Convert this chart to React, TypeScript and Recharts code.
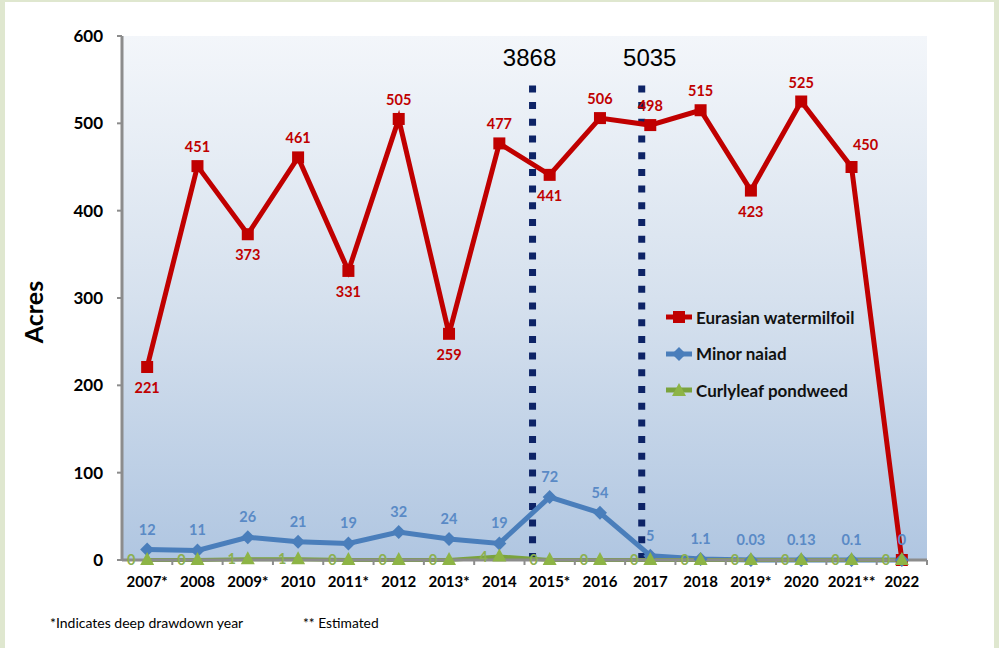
import React from 'react';
import { LineChart, Line, XAxis, YAxis, CartesianGrid, ReferenceLine, LabelList } from 'recharts';

const years = ['2007*', '2008', '2009*', '2010', '2011*', '2012', '2013*', '2014', '2015*', '2016', '2017', '2018', '2019*', '2020', '2021**', '2022'];
const watermilfoil = [221, 451, 373, 461, 331, 505, 259, 477, 441, 506, 498, 515, 423, 525, 450, 0];
const minorNaiad = [12, 11, 26, 21, 19, 32, 24, 19, 72, 54, 5, 1.1, 0.03, 0.13, 0.1, 0];
const curlyleaf = [0, 0, 1, 1, 0, 0, 0, 4, 0, 0, 0, 0, 0, 0, 0, 0];
const yTicks = [0, 100, 200, 300, 400, 500, 600];
const dividers = [
  { x: 7.66, top: 548, label: '3868', dx: -3 },
  { x: 9.83, top: 548, label: '5035', dx: 8 },
];
const redPlacement = ['below', 'above', 'below', 'above', 'below', 'above', 'below', 'above', 'below', 'above', 'above', 'above', 'below', 'above', 'right', 'none'];

const data = years.map((y, i) => ({
  i,
  year: y,
  ewm: watermilfoil[i],
  naiad: minorNaiad[i],
  curly: curlyleaf[i],
}));

const FONT = 'Lato, "Open Sans", sans-serif';
const RED = '#c00000';
const BLUE = '#4a7ebb';
const GREEN = '#7aa33d';
const GREEN_MARK = '#8db446';
const BAND = 805 / 16;

const Square = (p: any) => {
  const { cx, cy, index } = p;
  if (cx == null || cy == null) return <g key={'s' + index} />;
  return <rect key={'s' + index} x={cx - 6} y={cy - 6} width={12} height={12} fill={RED} />;
};
const Diamond = (p: any) => {
  const { cx, cy, index } = p;
  if (cx == null || cy == null) return <g key={'d' + index} />;
  return <path key={'d' + index} d={`M${cx},${cy - 7} L${cx + 7},${cy} L${cx},${cy + 7} L${cx - 7},${cy} Z`} fill={BLUE} />;
};
const Triangle = (p: any) => {
  const { cx, cy, index } = p;
  if (cx == null || cy == null) return <g key={'t' + index} />;
  return <path key={'t' + index} d={`M${cx},${cy - 8} L${cx + 7},${cy + 5} L${cx - 7},${cy + 5} Z`} fill={GREEN_MARK} />;
};

const RedLabel = (p: any) => {
  const { x, y, value, index } = p;
  const place = redPlacement[index];
  if (place === 'none') return null;
  let tx = x;
  let ty = y - 14;
  if (place === 'below') ty = y + 26;
  if (place === 'right') { tx = x + 14; ty = y - 17; }
  return (
    <text x={tx} y={ty} textAnchor="middle" fill={RED} fontFamily={FONT} fontWeight={700} fontSize={14.5}>
      {value}
    </text>
  );
};
const BlueLabel = (p: any) => {
  const { x, y, value } = p;
  return (
    <text x={x} y={y - 15} textAnchor="middle" fill="#5a8ac6" fontFamily={FONT} fontWeight={700} fontSize={14.5}>
      {String(value)}
    </text>
  );
};
const GreenLabel = (p: any) => {
  const { x, y, value } = p;
  return (
    <text x={x - 16} y={y + 5} textAnchor="middle" fill="#8cb050" fontFamily={FONT} fontWeight={700} fontSize={14.5}>
      {String(value)}
    </text>
  );
};

const XTick = (p: any) => {
  const { x, y, payload } = p;
  return (
    <g>
      <line x1={x + BAND / 2} x2={x + BAND / 2} y1={y} y2={y + 5} stroke="#8c8c8c" strokeWidth={2} />
      <text x={x} y={y + 27} textAnchor="middle" fill="#000" fontFamily={FONT} fontWeight={700} fontSize={15}>
        {years[payload.value]}
      </text>
    </g>
  );
};

const DividerLabel = (d: { label: string; dx: number }) => (p: any) => {
  const vb = p.viewBox || {};
  return (
    <text x={(vb.x || 0) + d.dx} y={(vb.y || 0) - 15} textAnchor="middle" fill="#000" fontFamily='"Liberation Sans", Arial, sans-serif' fontSize={24}>
      {d.label}
    </text>
  );
};

const legendItems = [
  { name: 'Eurasian watermilfoil', color: RED, mark: 'square' },
  { name: 'Minor naiad', color: BLUE, mark: 'diamond' },
  { name: 'Curlyleaf pondweed', color: GREEN, mark: 'triangle' },
];

const LegendContent = () => (
  <div style={{ fontFamily: FONT }}>
    {legendItems.map((it) => (
      <div key={it.name} style={{ display: 'flex', alignItems: 'center', height: 36.5 }}>
        <svg width={28} height={16} style={{ marginRight: 3 }}>
          <line x1={1} x2={27} y1={8} y2={8} stroke={it.color} strokeWidth={5} />
          {it.mark === 'square' && <rect x={8} y={2} width={12} height={12} fill={it.color} />}
          {it.mark === 'diamond' && <path d="M14,1 L21,8 L14,15 L7,8 Z" fill={it.color} />}
          {it.mark === 'triangle' && <path d="M14,1 L21,14 L7,14 Z" fill={GREEN_MARK} />}
        </svg>
        <span style={{ fontWeight: 700, fontSize: 17, color: '#111' }}>{it.name}</span>
      </div>
    ))}
  </div>
);

export default function App() {
  return (
    <div style={{ position: 'absolute', left: 0, top: 0, width: 999, height: 648, background: '#dfe7cf', overflow: 'hidden' }}>
      <div style={{ position: 'absolute', left: 5, top: 2, width: 989, height: 646, background: '#fff' }} />
      <div style={{ position: 'absolute', left: 0, top: 0 }}>
        <LineChart width={999} height={648} data={data} margin={{ top: 36, right: 72, bottom: 58, left: 62 }}>
          <defs>
            <linearGradient id="plotBg" x1="0" y1="0" x2="0" y2="1">
              <stop offset="0%" stopColor="#f3f6fa" />
              <stop offset="50%" stopColor="#d6e1ee" />
              <stop offset="100%" stopColor="#b0c6e1" />
            </linearGradient>
          </defs>
          <CartesianGrid horizontal={false} vertical={false} fill="url(#plotBg)" stroke="none" />
          <XAxis
            dataKey="i"
            type="number"
            domain={[-0.5, 15.5]}
            ticks={years.map((_, i) => i)}
            interval={0}
            axisLine={{ stroke: '#8c8c8c', strokeWidth: 3 }}
            tickLine={false}
            tickSize={0}
            tickMargin={0}
            height={30}
            tick={<XTick />}
          />
          <YAxis
            type="number"
            domain={[0, 600]}
            ticks={yTicks}
            width={60}
            axisLine={{ stroke: '#8c8c8c', strokeWidth: 3 }}
            tickLine={{ stroke: '#8c8c8c', strokeWidth: 2 }}
            tickSize={5}
            tickMargin={14}
            tick={{ fill: '#000', fontFamily: FONT, fontWeight: 700, fontSize: 17 }}
            label={{ value: 'Acres', angle: -90, position: 'insideLeft', offset: -28, dy: 14, style: { fontFamily: FONT, fontWeight: 700, fontSize: 25, fill: '#000', textAnchor: 'middle' } }}
          />
          {dividers.map((d) => (
            <ReferenceLine
              key={d.label}
              segment={[{ x: d.x, y: 0 }, { x: d.x, y: d.top }]}
              stroke="#0d2366"
              strokeWidth={7}
              strokeDasharray="7 9.7"
              label={DividerLabel(d)}
              ifOverflow="visible"
            />
          ))}
          <Line dataKey="ewm" stroke={RED} strokeWidth={5} dot={Square} activeDot={false} isAnimationActive={false}>
            <LabelList dataKey="ewm" content={RedLabel} />
          </Line>
          <Line dataKey="naiad" stroke={BLUE} strokeWidth={5} dot={Diamond} activeDot={false} isAnimationActive={false}>
            <LabelList dataKey="naiad" content={BlueLabel} />
          </Line>
          <Line dataKey="curly" stroke={GREEN} strokeWidth={4} dot={Triangle} activeDot={false} isAnimationActive={false}>
            <LabelList dataKey="curly" content={GreenLabel} />
          </Line>
        </LineChart>
      </div>
      <div style={{ position: 'absolute', left: 665, top: 299, width: 260 }}>
        <LegendContent />
      </div>
      <div style={{ position: 'absolute', left: 50, top: 614, fontFamily: FONT, fontSize: 14, color: '#000' }}>*Indicates deep drawdown year</div>
      <div style={{ position: 'absolute', left: 303, top: 614, fontFamily: FONT, fontSize: 13.8, color: '#000' }}>** Estimated</div>
    </div>
  );
}
